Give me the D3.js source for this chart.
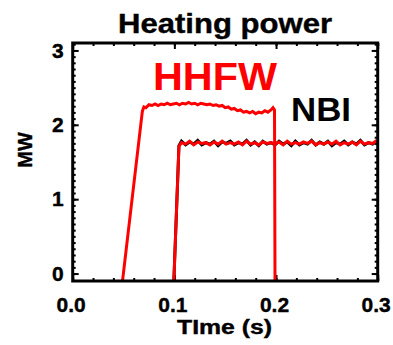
<!DOCTYPE html>
<html>
<head>
<meta charset="utf-8">
<script src="https://cdn.jsdelivr.net/npm/d3@7"></script>
<style>
  body { margin: 0; background: #fff; }
  text { font-family: "Liberation Sans", Arial, sans-serif; font-weight: bold; }
</style>
</head>
<body>
<svg id="chart" width="393" height="345"></svg>
<script>
// HHFW trace (red)
const hhfwTime = [0.049, 0.0685, 0.070, 0.072, 0.075, 0.078, 0.081, 0.084, 0.087, 0.090,
  0.093, 0.096, 0.099, 0.102, 0.105, 0.108, 0.111, 0.114, 0.117, 0.120,
  0.123, 0.126, 0.129, 0.132, 0.135, 0.138, 0.141, 0.144, 0.147, 0.150,
  0.153, 0.156, 0.159, 0.162, 0.165, 0.168, 0.171, 0.174, 0.177, 0.180,
  0.183, 0.186, 0.189, 0.192, 0.195, 0.197, 0.1985, 0.199]
const hhfwPower = [-0.1, 2.18, 2.24, 2.23, 2.27, 2.26, 2.28, 2.26, 2.28, 2.27,
  2.29, 2.27, 2.28, 2.29, 2.27, 2.29, 2.28, 2.30, 2.28, 2.29,
  2.27, 2.29, 2.28, 2.27, 2.28, 2.26, 2.27, 2.25, 2.26, 2.23,
  2.24, 2.21, 2.22, 2.19, 2.20, 2.17, 2.18, 2.16, 2.18, 2.15,
  2.17, 2.16, 2.19, 2.17, 2.20, 2.23, 2.20, -0.1]

// NBI traces (black measured, red overlay)
const nbiTime = [0.0995, 0.1045,
  0.107, 0.111, 0.115, 0.119, 0.123, 0.127, 0.131,
  0.135, 0.139, 0.143, 0.147, 0.151, 0.155, 0.159,
  0.163, 0.167, 0.171, 0.175, 0.179, 0.183, 0.187,
  0.191, 0.195, 0.199, 0.203, 0.207, 0.211, 0.215,
  0.219, 0.223, 0.227, 0.231, 0.235, 0.239, 0.243,
  0.247, 0.251, 0.255, 0.259, 0.263, 0.267, 0.271,
  0.275, 0.279, 0.283, 0.287, 0.291, 0.295, 0.299]
const nbiBlack = [-0.1, 1.72,
  1.78, 1.73, 1.77, 1.74, 1.79, 1.73, 1.76,
  1.74, 1.78, 1.72, 1.77, 1.75, 1.78, 1.73,
  1.76, 1.74, 1.79, 1.73, 1.77, 1.72, 1.78,
  1.74, 1.76, 1.73, 1.78, 1.74, 1.77, 1.72,
  1.78, 1.73, 1.76, 1.74, 1.79, 1.73, 1.77,
  1.74, 1.78, 1.72, 1.76, 1.74, 1.78, 1.73,
  1.77, 1.74, 1.79, 1.73, 1.76, 1.74, 1.78]
const nbiRed = [-0.1, 1.71,
  1.76, 1.74, 1.78, 1.73, 1.77, 1.75, 1.76,
  1.73, 1.77, 1.74, 1.78, 1.74, 1.76, 1.74,
  1.77, 1.73, 1.78, 1.74, 1.76, 1.73, 1.77,
  1.75, 1.76, 1.74, 1.77, 1.73, 1.78, 1.74,
  1.76, 1.74, 1.77, 1.75, 1.78, 1.73, 1.76,
  1.74, 1.77, 1.74, 1.78, 1.73, 1.76, 1.74,
  1.77, 1.73, 1.78, 1.74, 1.76, 1.75, 1.79]

const xTicks = [0.0, 0.1, 0.2, 0.3]
const yTicks = [0, 1, 2, 3]

const svg = d3.select('#chart')
const margin = {top: 43, right: 15.3, bottom: 64, left: 72.7}
const width = 393, height = 345

const x = d3.scaleLinear().domain([0, 0.3]).range([margin.left, width - margin.right])
const y = d3.scaleLinear().domain([-0.1, 3.1]).range([height - margin.bottom, margin.top])

svg.append('rect').attr('width', width).attr('height', height).attr('fill', '#fff')

svg.append('clipPath').attr('id', 'clip')
  .append('rect')
  .attr('x', margin.left).attr('y', margin.top)
  .attr('width', x(0.3) - x(0)).attr('height', y(-0.1) - y(3.1))

// minor ticks
const xMinor = d3.range(0, 0.3001, 0.02)
const yMinor = d3.range(0, 3.1, 1 / 12)

function styleAxis(g) {
  g.select('.domain').remove()
  g.selectAll('line').attr('stroke', '#000').attr('stroke-width', 2)
}

svg.append('g').attr('transform', `translate(0,${y(-0.1)})`)
  .call(d3.axisBottom(x).tickValues(xMinor).tickSize(-3).tickFormat(''))
  .call(styleAxis)
svg.append('g').attr('transform', `translate(0,${y(3.1)})`)
  .call(d3.axisTop(x).tickValues(xMinor).tickSize(-3).tickFormat(''))
  .call(styleAxis)
svg.append('g').attr('transform', `translate(${x(0)},0)`)
  .call(d3.axisLeft(y).tickValues(yMinor).tickSize(-3).tickFormat(''))
  .call(styleAxis)
svg.append('g').attr('transform', `translate(${x(0.3)},0)`)
  .call(d3.axisRight(y).tickValues(yMinor).tickSize(-3).tickFormat(''))
  .call(styleAxis)

// major ticks with labels
const xAxis = svg.append('g').attr('transform', `translate(0,${y(-0.1)})`)
  .call(d3.axisBottom(x).tickValues(xTicks).tickSize(-6).tickPadding(16).tickFormat(d3.format('.1f')))
  .call(styleAxis)
xAxis.selectAll('text').attr('font-size', 21).attr('dx', -2).attr('fill', '#000')
  .attr('stroke', '#000').attr('stroke-width', 0.4)
  .attr('font-family', '"Liberation Sans", Arial, sans-serif')

const yAxis = svg.append('g').attr('transform', `translate(${x(0)},0)`)
  .call(d3.axisLeft(y).tickValues(yTicks).tickSize(-6).tickPadding(9).tickFormat(d3.format('d')))
  .call(styleAxis)
yAxis.selectAll('text').attr('font-size', 21).attr('fill', '#000')
  .attr('stroke', '#000').attr('stroke-width', 0.4)
  .attr('font-family', '"Liberation Sans", Arial, sans-serif')

svg.append('g').attr('transform', `translate(0,${y(3.1)})`)
  .call(d3.axisTop(x).tickValues(xTicks).tickSize(-6).tickFormat(''))
  .call(styleAxis)
svg.append('g').attr('transform', `translate(${x(0.3)},0)`)
  .call(d3.axisRight(y).tickValues(yTicks).tickSize(-6).tickFormat(''))
  .call(styleAxis)

// traces
const line = d3.line().x(d => x(d[0])).y(d => y(d[1]))
const plot = svg.append('g').attr('clip-path', 'url(#clip)')

plot.append('path')
  .datum(nbiTime.map((t, i) => [t, nbiBlack[i]]))
  .attr('d', line).attr('fill', 'none').attr('stroke', '#000').attr('stroke-width', 3)
plot.append('path')
  .datum(nbiTime.map((t, i) => [t, nbiRed[i]]))
  .attr('d', line).attr('fill', 'none').attr('stroke', '#ff0000').attr('stroke-width', 3)
plot.append('path')
  .datum(hhfwTime.map((t, i) => [t, hhfwPower[i]]))
  .attr('d', line).attr('fill', 'none').attr('stroke', '#ff0000').attr('stroke-width', 3)

// frame
svg.append('rect')
  .attr('x', x(0)).attr('y', y(3.1))
  .attr('width', x(0.3) - x(0)).attr('height', y(-0.1) - y(3.1))
  .attr('fill', 'none').attr('stroke', '#000').attr('stroke-width', 3)

// labels
svg.append('text').attr('x', 118).attr('y', 33).attr('font-size', 28)
  .attr('stroke', '#000').attr('stroke-width', 0.4)
  .attr('textLength', 214).attr('lengthAdjust', 'spacingAndGlyphs')
  .text('Heating power')
svg.append('text').attr('x', 153).attr('y', 90).attr('font-size', 39).attr('fill', '#ff0000')
  .attr('textLength', 124).attr('lengthAdjust', 'spacingAndGlyphs')
  .text('HHFW')
svg.append('text').attr('x', 291).attr('y', 121).attr('font-size', 33)
  .attr('textLength', 60).attr('lengthAdjust', 'spacingAndGlyphs')
  .text('NBI')
svg.append('text').attr('x', 177).attr('y', 334).attr('font-size', 21)
  .attr('stroke', '#000').attr('stroke-width', 0.4)
  .attr('textLength', 95).attr('lengthAdjust', 'spacingAndGlyphs')
  .text('TIme (s)')
svg.append('text').attr('transform', 'translate(32,150) rotate(-90)')
  .attr('text-anchor', 'middle').attr('font-size', 20)
  .attr('stroke', '#000').attr('stroke-width', 0.4)
  .text('MW')
</script>
</body>
</html>
